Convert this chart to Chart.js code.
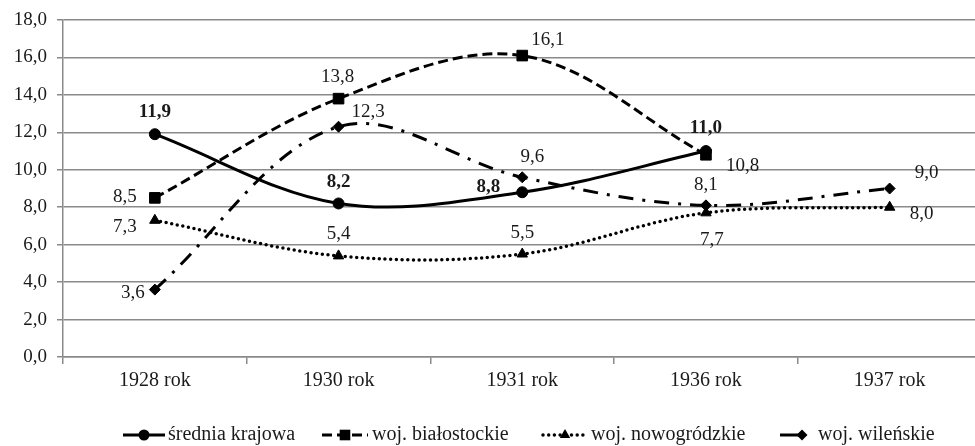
<!DOCTYPE html>
<html><head><meta charset="utf-8">
<script src="https://cdn.jsdelivr.net/npm/chart.js@4/dist/chart.umd.min.js"></script>
<style>html,body{margin:0;padding:0;background:#fff;overflow:hidden;}#wrap{width:990px;height:446px;position:relative;}</style>
</head><body><div id="wrap"><canvas id="c"></canvas></div>
<script>
// ---- data ----
const categories = ['1928 rok', '1930 rok', '1931 rok', '1936 rok', '1937 rok'];
const sredniaKrajowa = [11.9, 8.2, 8.8, 11.0, null];
const wojBialostockie = [8.5, 13.8, 16.1, 10.8, null];
const wojNowogrodzkie = [7.3, 5.4, 5.5, 7.7, 8.0];
const wojWilenskie = [3.6, 12.3, 9.6, 8.1, 9.0];
const seriesNames = ['średnia krajowa', 'woj. białostockie', 'woj. nowogródzkie', 'woj. wileńskie'];
const yTicks = [0, 2, 4, 6, 8, 10, 12, 14, 16, 18];

// ---- label placement (layout only): [dx, dy, align] ----
const labelPlace = [
  [[0,-22,'center'],[0,-21,'center'],[-22,-5,'right'],[0,-23,'center'],null],
  [[-18,-1,'right'],[-1,-22,'center'],[9,-16,'left'],[20,11,'left'],null],
  [[-18,7,'right'],[0,-22,'center'],[0,-21,'center'],[6,27,'center'],[20,7,'left']],
  [[-10,3,'right'],[13,-15,'left'],[10,-20,'center'],[0,-20,'center'],[25,-15,'left']]
];
const FONT = 'Liberation Serif, Times New Roman, serif';
const TXT = '#1a1a1a';
const GRID = '#8a8a8a';
const T = 0.35;

const styles = [
  {dash: [], cap: 'butt', point: 'circle', r: 5.5, w: 3, bold: true},
  {dash: [10,5], cap: 'butt', point: 'rect', r: 7.5, w: 3, bold: false},
  {dash: [0,5.7], cap: 'round', point: 'triangle', r: 6, w: 3.5, bold: false},
  {dash: [15,9,3,9], cap: 'butt', point: 'rectRot', r: 5.5, w: 3, bold: false}
];
const seriesData = [sredniaKrajowa, wojBialostockie, wojNowogrodzkie, wojWilenskie];

const datasets = seriesData.map((d, i) => ({
  label: seriesNames[i],
  data: d,
  borderColor: '#000',
  backgroundColor: '#000',
  borderWidth: styles[i].w,
  borderDash: styles[i].dash,
  borderCapStyle: styles[i].cap,
  pointStyle: styles[i].point,
  pointRadius: styles[i].r,
  pointBorderWidth: 1,
  pointBackgroundColor: '#000',
  pointBorderColor: '#000',
  tension: T,
  fill: false
}));

const labelsPlugin = {
  id: 'dataLabels',
  afterDatasetsDraw(chart) {
    const ctx = chart.ctx;
    ctx.save();
    ctx.fillStyle = TXT;
    ctx.textBaseline = 'middle';
    chart.data.datasets.forEach((ds, i) => {
      const meta = chart.getDatasetMeta(i);
      ctx.font = (styles[i].bold ? 'bold ' : '') + '19px ' + FONT;
      meta.data.forEach((pt, j) => {
        const v = ds.data[j];
        const p = labelPlace[i][j];
        if (v == null || !p) return;
        ctx.textAlign = p[2];
        ctx.fillText(v.toFixed(1).replace('.', ','), pt.x + p[0], pt.y + p[1]);
      });
    });
    ctx.restore();
  }
};

function marker(ctx, type, x, y, r) {
  ctx.beginPath();
  if (type === 'circle') { ctx.arc(x, y, r, 0, Math.PI * 2); }
  else if (type === 'rect') { const s = r * Math.SQRT1_2; ctx.rect(x - s, y - s, 2 * s, 2 * s); }
  else if (type === 'triangle') { ctx.moveTo(x, y - r); ctx.lineTo(x + r * 0.87, y + r * 0.5); ctx.lineTo(x - r * 0.87, y + r * 0.5); ctx.closePath(); }
  else { ctx.moveTo(x, y - r); ctx.lineTo(x + r, y); ctx.lineTo(x, y + r); ctx.lineTo(x - r, y); ctx.closePath(); }
  ctx.fill();
}

// legend layout (positions only)
const legendItems = [
  {x0: 123, x1: 165, mx: 144, tx: 168},
  {x0: 322, x1: 368, mx: 345, tx: 372},
  {x0: 543, x1: 587, mx: 565, tx: 591},
  {x0: 780, x1: 800, mx: 802, tx: 818}
];
const legendPlugin = {
  id: 'customLegend',
  afterDraw(chart) {
    const ctx = chart.ctx;
    const y = 435;
    ctx.save();
    legendItems.forEach((it, i) => {
      const st = styles[i];
      ctx.strokeStyle = '#000';
      ctx.fillStyle = '#000';
      ctx.lineWidth = st.w;
      ctx.lineCap = st.cap;
      ctx.setLineDash(i === 3 ? [] : st.dash);
      ctx.beginPath();
      ctx.moveTo(it.x0, y); ctx.lineTo(it.x1, y); ctx.stroke();
      ctx.setLineDash([]);
      marker(ctx, st.point, it.mx, y, st.r);
      ctx.fillStyle = TXT;
      ctx.font = '20px ' + FONT;
      ctx.textAlign = 'left';
      ctx.textBaseline = 'middle';
      ctx.fillText(seriesNames[i], it.tx, y);
    });
    ctx.restore();
  }
};

new Chart(document.getElementById('c'), {
  type: 'line',
  data: { labels: categories, datasets: datasets },
  options: {
    responsive: true,
    maintainAspectRatio: false,
    animation: false,
    events: [],
    layout: { padding: { top: 20, right: 6, bottom: 49, left: 0 } },
    plugins: { legend: { display: false }, tooltip: { enabled: false } },
    scales: {
      x: {
        offset: true,
        grid: { offset: true, drawOnChartArea: false, drawTicks: true, tickLength: 7, color: GRID, lineWidth: 1.5 },
        border: { color: GRID, width: 1.5 },
        ticks: { font: { family: FONT, size: 20 }, color: TXT, padding: 5, maxRotation: 0, autoSkip: false },
        afterFit(s) { s.height = 40; s.paddingLeft = 0; s.paddingRight = 0; }
      },
      y: {
        min: 0, max: 18,
        afterBuildTicks(s) { s.ticks = yTicks.map(v => ({ value: v })); },
        grid: { color: GRID, lineWidth: 1.5, tickLength: 6 },
        border: { color: GRID, width: 1.5 },
        ticks: { font: { family: FONT, size: 19 }, color: TXT, padding: 10, callback: v => v.toFixed(1).replace('.', ',') },
        afterFit(s) { s.width = 63; s.paddingTop = 0; s.paddingBottom = 0; }
      }
    }
  },
  plugins: [labelsPlugin, legendPlugin]
});
</script>
</body></html>
